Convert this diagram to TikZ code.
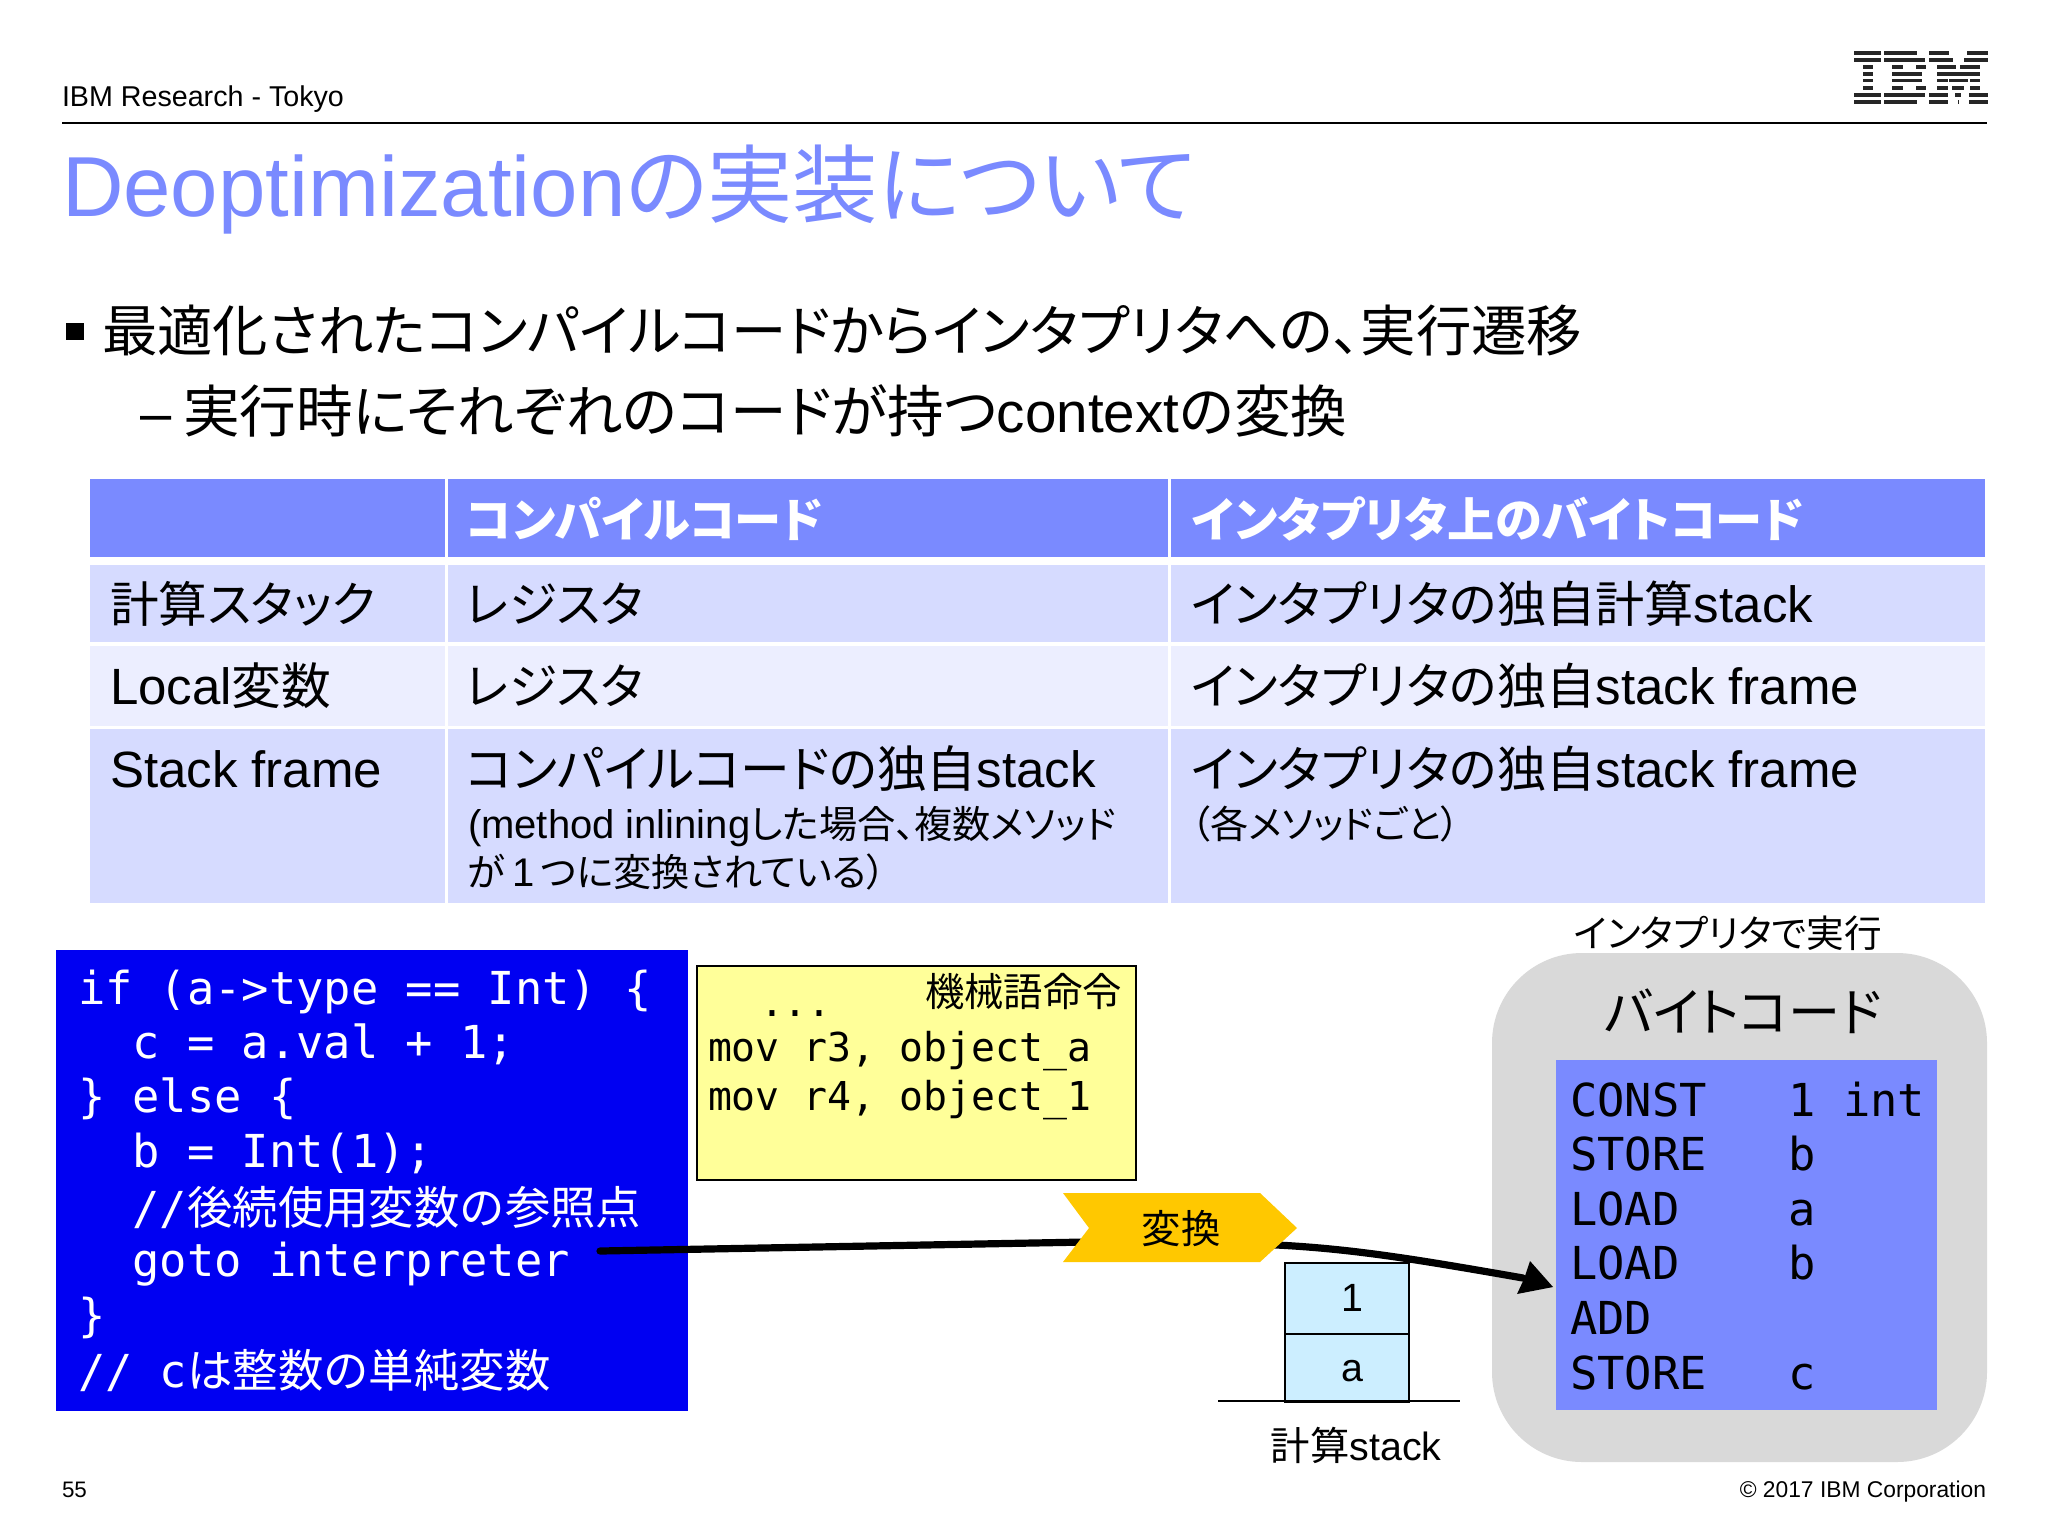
\documentclass[tikz,border=0pt]{standalone}
\usepackage{fontspec}
\setmainfont{Liberation Sans}
\setmonofont{DejaVu Sans Mono}
\newfontfamily\cjk[RawFeature=+palt]{Noto Sans CJK JP}
\newfontfamily\cjks[RawFeature=+palt,Scale=0.955]{Noto Sans CJK JP}
\newfontfamily\cjkr[RawFeature=+palt,Scale=0.965]{Noto Sans CJK JP}
\newfontfamily\cjkq[RawFeature=+palt,Scale=0.975]{Noto Sans CJK JP}
\newfontfamily\cjkm{Noto Sans CJK JP}
\definecolor{ibmblue}{HTML}{7A8AFF}
\definecolor{rowa}{HTML}{D6DBFF}
\definecolor{rowb}{HTML}{ECEEFF}
\definecolor{codeblue}{HTML}{0000F2}
\definecolor{noteyellow}{HTML}{FFFF99}
\definecolor{bannergold}{HTML}{FFC800}
\definecolor{stackblue}{HTML}{CCEEFF}
\definecolor{panelgrey}{HTML}{D9D9D9}
\tikzset{
  txt/.style={anchor=base west,inner sep=0pt,outer sep=0pt},
  cellfont/.style={txt,font=\fontsize{25.5}{30}\selectfont},
  cellsmall/.style={txt,font=\fontsize{20}{24}\selectfont},
  headfont/.style={txt,text=white,font=\fontsize{23.6}{28}\bfseries\selectfont},
  codefont/.style={txt,font=\ttfamily\fontsize{22.7}{27.3}\selectfont},
  notefont/.style={txt,font=\ttfamily\fontsize{19.9}{24.5}\selectfont},
  label/.style={inner sep=0pt,outer sep=0pt,font=\fontsize{19.7}{24}\selectfont},
  stackcell/.style={draw=black,line width=1pt,fill=stackblue,anchor=north west,inner sep=0pt,minimum width=62pt,font=\fontsize{19.7}{24}\selectfont},
  fatline/.style={line width=3.6pt,line cap=round},
}
\newcommand{\logobar}[4]{\fill[black!85] (#1,#3) rectangle (#2,#4);}
\begin{document}
\begin{tikzpicture}[x=0.5pt,y=-0.5pt]
\useasboundingbox (0,0) rectangle (2048,1536);
\fill[white] (0,0) rectangle (2048,1536);

% header
\node[txt,font=\fontsize{14.33}{16}\selectfont] (hdr) at (62,106) {IBM Research - Tokyo};
\coordinate (ruleL) at (62,123); \coordinate (ruleR) at (1987,123);
\draw[line width=1pt,black] (ruleL) -- (ruleR);
\begin{scope}[shift={(1780,20)},x=0.1675pt,y=-0.1667pt]
  \foreach \a/\b/\c/\d in {
    222/300/92/104,222/300/115/127,247/278/135/146,247/278/156/167,247/278/176/187,247/278/198/209,222/300/218/230,222/300/240/252,
    310/410/92/104,310/432/115/127,335/368/135/146,405/435/135/146,335/425/156/167,335/425/176/187,335/368/198/209,405/435/198/209,310/432/218/230,310/410/240/252,
    445/505/92/104,558/622/92/104,445/515/115/127,548/622/115/127,470/525/135/146,537/598/135/146,470/598/156/167,470/500/176/187,505/562/176/187,568/598/176/187,470/500/198/209,513/550/198/209,568/598/198/209,445/500/218/230,522/540/218/230,565/622/218/230,445/500/240/252,530/534/240/252,565/622/240/252}
  {\logobar{\a}{\b}{\c}{\d}}
\end{scope}

% title
\node[txt,text=ibmblue,font=\fontsize{42.6}{50}\selectfont] (title) at (62,216) {Deoptimization{\cjk の実装について}};

% bullets
\fill[black] (66,323) rectangle (84,340);
\node[txt,font=\fontsize{27.7}{32}\selectfont] (b1) at (102,351) {\cjk 最適化されたコンパイルコードからインタプリタへの、実行遷移};
\node[txt,font=\fontsize{28}{32}\selectfont] (b2dash) at (140,432) {–};
\node[txt,font=\fontsize{28.3}{32}\selectfont] (b2) at (183,432) {{\cjk 実行時にそれぞれのコードが持つ}context{\cjk の変換}};

% table
\fill[ibmblue] (90,479) rectangle (445,557);
\fill[ibmblue] (448,479) rectangle (1168,557);
\fill[ibmblue] (1171,479) rectangle (1985,557);
\fill[rowa] (90,565) rectangle (445,642);
\fill[rowa] (448,565) rectangle (1168,642);
\fill[rowa] (1171,565) rectangle (1985,642);
\fill[rowb] (90,646) rectangle (445,726);
\fill[rowb] (448,646) rectangle (1168,726);
\fill[rowb] (1171,646) rectangle (1985,726);
\fill[rowa] (90,729) rectangle (445,903);
\fill[rowa] (448,729) rectangle (1168,903);
\fill[rowa] (1171,729) rectangle (1985,903);

\node[headfont] (h2) at (466,537) {\cjk\bfseries コンパイルコード};
\node[headfont] (h3) at (1192,537) {\cjk\bfseries インタプリタ上のバイトコード};
\node[cellfont] (r1a) at (110,622) {\cjks 計算スタック};
\node[cellfont] (r1b) at (466,622) {\cjks レジスタ};
\node[cellfont] (r1c) at (1191,622) {{\cjkr インタプリタの独自計算}stack};
\node[cellfont] (r2a) at (110,704) {Local{\cjkq 変数}};
\node[cellfont] (r2b) at (466,704) {\cjks レジスタ};
\node[cellfont] (r2c) at (1191,704) {{\cjkr インタプリタの独自}stack frame};
\node[cellfont] (r3a) at (110,787) {Stack frame};
\node[cellfont] (r3b) at (466,787) {{\cjkq コンパイルコードの独自}stack};
\node[cellfont] (r3c) at (1191,787) {{\cjkr インタプリタの独自}stack frame};
\node[cellsmall] (r3b2) at (468,838) {(method inlining{\cjks した場合、複数メソッド}};
\node[cellsmall] (r3b3) at (468,886) {{\cjks が}\,1\,{\cjks つに変換されている）}};
\node[cellsmall] (r3c2) at (1191,838) {\cjks （各メソッドごと）};

% code box
\fill[codeblue] (56,950) rectangle (688,1411);
\node[codefont,text=white] (c1) at (78,1004) {if (a->type == Int) \{};
\node[codefont,text=white] (c2) at (78,1058) {\ \ c = a.val + 1;};
\node[codefont,text=white] (c3) at (78,1112.5) {\} else \{};
\node[codefont,text=white] (c4) at (78,1167.5) {\ \ b = Int(1);};
\node[codefont,text=white] (c5) at (78,1224) {\ \ //{\cjkm 後続使用変数の参照点}};
\node[codefont,text=white] (c6) at (78,1276) {\ \ goto interpreter};
\node[codefont,text=white] (c7) at (78,1331) {\}};
\node[codefont,text=white] (c8) at (78,1387) {// c{\cjkm は整数の単純変数}};

% note box
\draw[black,line width=1pt,fill=noteyellow] (697,966) rectangle (1136,1180);
\node[label,anchor=base east] (n0) at (1122,1006) {\cjkm 機械語命令};
\node[notefont] (n1) at (760,1016) {...};
\node[notefont] (n2) at (708,1061) {mov r3, object\_a};
\node[notefont] (n3) at (708,1110) {mov r4, object\_1};

% grey panel
\fill[panelgrey,rounded corners=45pt] (1492,953) rectangle (1987,1462);
\fill[ibmblue] (1556,1060) rectangle (1937,1410);
\node[label] (run) at (1728,933) {\cjks インタプリタで実行};
\node[font=\fontsize{27.3}{34}\selectfont,inner sep=0pt] (bc) at (1743,1011) {\cjks バイトコード};
\node[codefont] (b1c) at (1570,1116) {CONST\ \ \ 1 int};
\node[codefont] (b2c) at (1570,1170.5) {STORE\ \ \ b};
\node[codefont] (b3c) at (1570,1225) {LOAD\ \ \ \ a};
\node[codefont] (b4c) at (1570,1279.5) {LOAD\ \ \ \ b};
\node[codefont] (b5c) at (1570,1334.5) {ADD};
\node[codefont] (b6c) at (1570,1389) {STORE\ \ \ c};

% stack
\node[stackcell,minimum height=35.25pt] (s1) at (1284,1262) {\hspace*{5.2pt}1};
\node[stackcell,minimum height=34.25pt] (s2) at (1284,1332.5) {\hspace*{5.2pt}\raisebox{-7pt}[0pt][0pt]{a}};
\coordinate (baseL) at (1218,1401); \coordinate (baseR) at (1460,1401);
\draw[line width=1pt] (baseL) -- (baseR);
\node[label] (stk) at (1356,1445) {{\cjk 計算}stack};

% connector
\coordinate (from) at (600,1251);
\coordinate (tip) at (1553,1287);
\coordinate (behind) at (1087,1242);
\coordinate (thru) at (1277,1245);
\draw[fatline] (from) -- (behind) -- (thru) .. controls (1355,1249) and (1420,1260) .. (1523,1278);
\fill[black] (tip) -- (1517,1294) -- (1524,1279) -- (1530,1261) -- cycle;

% banner
\fill[bannergold] (1063,1193) -- (1260,1193) -- (1297,1228) -- (1260,1262) -- (1063,1262) -- (1089,1228) -- cycle;
\node[label] (conv) at (1181,1229) {\cjkm 変換};

% footer
\node[txt,font=\fontsize{11.2}{13}\selectfont] (pg) at (62,1497) {55};
\node[txt,anchor=base east,font=\fontsize{11.4}{14}\selectfont] (copy) at (1986,1497) {© 2017 IBM Corporation};
\end{tikzpicture}
\end{document}
